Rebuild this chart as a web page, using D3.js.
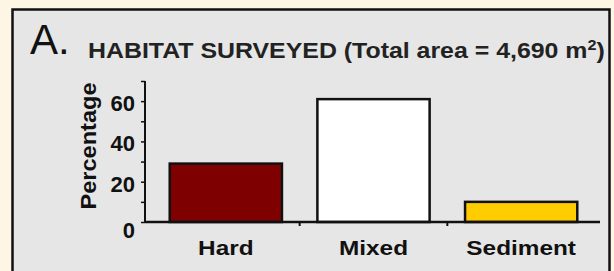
<!DOCTYPE html>
<html>
<head>
<meta charset="utf-8">
<script src="https://cdn.jsdelivr.net/npm/d3@7"></script>
<style>
  body { margin: 0; background: #fdf6e4; }
  svg { display: block; }
  text { font-family: "Liberation Sans", Arial, sans-serif; fill: #111; }
</style>
</head>
<body>
<svg id="chart" width="614" height="271"></svg>
<script>
// data
var categories = ["Hard", "Mixed", "Sediment"];
var percentValues = [29, 61, 10];
var barColors = ["#7f0000", "#ffffff", "#ffcc00"];
var yTicks = [0, 10, 20, 30, 40, 50, 60, 70];
var yTickLabels = [0, 20, 40, 60];
var panelLetter = "A.";
var titleText = "HABITAT SURVEYED (Total area = 4,690 m";

var svg = d3.select("#chart");

// panel
svg.append("rect")
    .attr("x", 12.5).attr("y", 9.5)
    .attr("width", 597).attr("height", 300)
    .attr("fill", "#e6e6e6")
    .attr("stroke", "#111")
    .attr("stroke-width", 2.5);

svg.append("text")
    .attr("x", 30).attr("y", 54)
    .style("font-size", "42px")
    .text(panelLetter);

// title, squeezed to match width
var title = svg.append("text")
    .attr("x", 0).attr("y", 0)
    .style("font-size", "21.5px")
    .style("font-weight", "bold")
    .style("fill", "#222");
title.append("tspan").text(titleText);
title.append("tspan").attr("dy", -8).style("font-size", "14px").text("2");
title.append("tspan").attr("dy", 8).text(")");
var tw = title.node().getBBox().width;
title.attr("transform", "translate(88,58) scale(" + (517 / tw) + ",1)");

// scales
var y = d3.scaleLinear().domain([0, 70]).range([222, 81]);
var x = d3.scaleBand().domain(categories).range([152, 595])
    .paddingInner(0.24).paddingOuter(0.12);

// bars
svg.selectAll("rect.bar")
    .data(categories)
    .enter()
    .append("rect")
    .attr("class", "bar")
    .attr("x", function (d) { return x(d); })
    .attr("width", x.bandwidth())
    .attr("y", function (d, i) { return y(percentValues[i]); })
    .attr("height", function (d, i) { return y(0) - y(percentValues[i]); })
    .attr("fill", function (d, i) { return barColors[i]; })
    .attr("stroke", "#111")
    .attr("stroke-width", 2.5);

// y axis
var yAxis = d3.axisLeft(y).tickValues(yTicks).tickSize(4)
    .tickFormat(function () { return ""; });
var gy = svg.append("g").attr("transform", "translate(145,0)").call(yAxis);
gy.select(".domain").attr("stroke", "#111").attr("stroke-width", 2)
    .attr("d", "M0," + y(70) + "V" + y(0));
gy.selectAll(".tick line").attr("stroke", "#111").attr("stroke-width", 1.5);

svg.selectAll("text.ytick")
    .data(yTickLabels)
    .enter()
    .append("text")
    .attr("class", "ytick")
    .attr("x", 135)
    .attr("y", function (d) { return y(d) + (d === 0 ? 16 : 10); })
    .attr("text-anchor", "end")
    .style("font-size", "22px")
    .style("font-weight", "bold")
    .text(function (d) { return d; });

// x axis
svg.append("line")
    .attr("x1", 145).attr("x2", 600)
    .attr("y1", y(0)).attr("y2", y(0))
    .attr("stroke", "#111").attr("stroke-width", 2.5);

svg.selectAll("line.xsep")
    .data(categories.slice(1))
    .enter()
    .append("line")
    .attr("class", "xsep")
    .attr("x1", function (d) { return x(d) - x.step() * x.paddingInner() / 2; })
    .attr("x2", function (d) { return x(d) - x.step() * x.paddingInner() / 2; })
    .attr("y1", y(0)).attr("y2", y(0) + 4)
    .attr("stroke", "#111").attr("stroke-width", 2);

svg.selectAll("text.cat")
    .data(categories)
    .enter()
    .append("text")
    .attr("class", "cat")
    .attr("text-anchor", "middle")
    .style("font-size", "21px")
    .style("font-weight", "bold")
    .attr("transform", function (d) {
        return "translate(" + (x(d) + x.bandwidth() / 2) + ",255) scale(1.16,1)";
    })
    .text(function (d) { return d; });

// y label
svg.append("text")
    .attr("transform", "translate(96,146) rotate(-90)")
    .attr("text-anchor", "middle")
    .style("font-size", "22px")
    .style("font-weight", "bold")
    .attr("textLength", 127)
    .attr("lengthAdjust", "spacingAndGlyphs")
    .text("Percentage");
</script>
</body>
</html>
